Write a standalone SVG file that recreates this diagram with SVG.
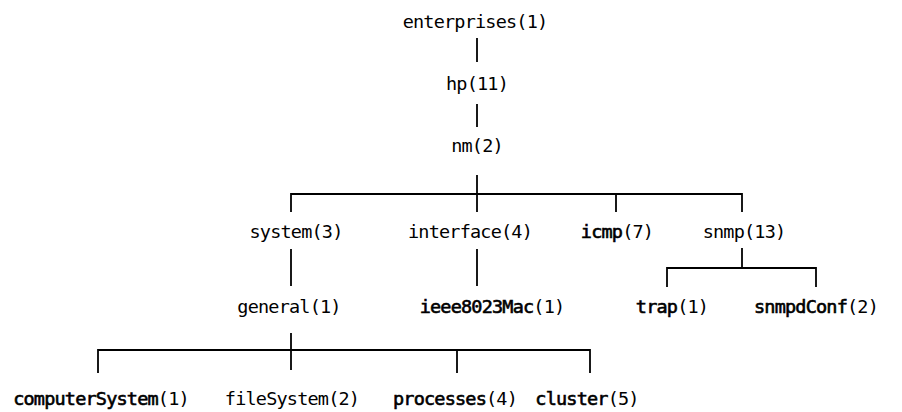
<svg xmlns="http://www.w3.org/2000/svg" width="902" height="412" viewBox="0 0 902 412">
<style>
text{font-family:"DejaVu Sans Mono","Liberation Mono",monospace;font-size:18.5px;letter-spacing:-0.8px;fill:#000;text-anchor:middle}
.b{stroke:#000;stroke-width:0.6}
#connectors line{stroke:#000;stroke-width:1.8;fill:none}
</style>
<rect width="902" height="412" fill="#fff"/>
<g id="connectors">
<line x1="477" y1="38" x2="477" y2="62"/>
<line x1="477" y1="104" x2="477" y2="127"/>
<line x1="477" y1="175" x2="477" y2="212"/>
<line x1="291" y1="194" x2="742" y2="194"/>
<line x1="291" y1="193" x2="291" y2="212"/>
<line x1="616" y1="194" x2="616" y2="212"/>
<line x1="742" y1="193" x2="742" y2="212"/>
<line x1="291" y1="249" x2="291" y2="286"/>
<line x1="477" y1="249" x2="477" y2="286"/>
<line x1="742" y1="248" x2="742" y2="268"/>
<line x1="667" y1="268" x2="816" y2="268"/>
<line x1="667" y1="267" x2="667" y2="287"/>
<line x1="816" y1="267" x2="816" y2="287"/>
<line x1="291" y1="333" x2="291" y2="370"/>
<line x1="98" y1="350" x2="590" y2="350"/>
<line x1="98" y1="349" x2="98" y2="373"/>
<line x1="457" y1="350" x2="457" y2="373"/>
<line x1="590" y1="349" x2="590" y2="373"/>
</g>
<g id="enterprises"><text x="475" y="28">enterprises(1)</text></g>
<g id="hp"><text x="477" y="90">hp(11)</text></g>
<g id="nm"><text x="477" y="152">nm(2)</text></g>
<g id="system"><text x="296" y="238">system(3)</text></g>
<g id="interface"><text x="470" y="238">interface(4)</text></g>
<g id="icmp"><text x="617" y="238"><tspan class="b">icmp</tspan>(7)</text></g>
<g id="snmp"><text x="744" y="238">snmp(13)</text></g>
<g id="general"><text x="289" y="313">general(1)</text></g>
<g id="ieee8023Mac"><text x="492" y="313"><tspan class="b">ieee8023Mac</tspan>(1)</text></g>
<g id="trap"><text x="672" y="313"><tspan class="b">trap</tspan>(1)</text></g>
<g id="snmpdConf"><text x="816" y="313"><tspan class="b">snmpdConf</tspan>(2)</text></g>
<g id="computerSystem"><text x="101" y="405"><tspan class="b">computerSystem</tspan>(1)</text></g>
<g id="fileSystem"><text x="292" y="405">fileSystem(2)</text></g>
<g id="processes"><text x="455" y="405"><tspan class="b">processes</tspan>(4)</text></g>
<g id="cluster"><text x="587" y="405"><tspan class="b">cluster</tspan>(5)</text></g>
</svg>
